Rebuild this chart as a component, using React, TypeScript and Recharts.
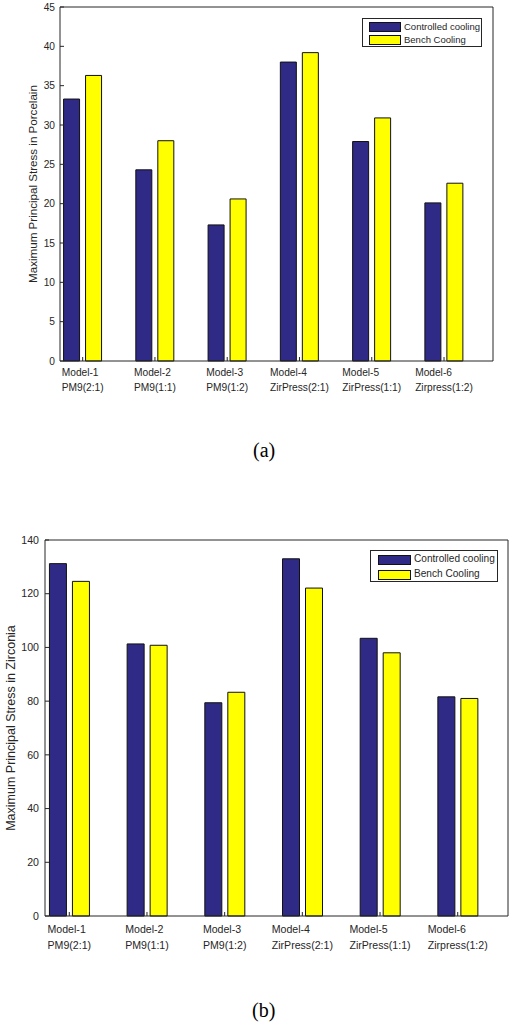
import { Bar, BarChart, Legend, XAxis, YAxis } from "recharts";

// values
const models = ["Model-1", "Model-2", "Model-3", "Model-4", "Model-5", "Model-6"];
const materials = ["PM9(2:1)", "PM9(1:1)", "PM9(1:2)", "ZirPress(2:1)", "ZirPress(1:1)", "Zirpress(1:2)"];

const porcelainControlled = [33.3, 24.3, 17.3, 38.0, 27.9, 20.1];
const porcelainBench = [36.3, 28.0, 20.6, 39.2, 30.9, 22.6];
const porcelainTicks = [0, 5, 10, 15, 20, 25, 30, 35, 40, 45];

const zirconiaControlled = [131.2, 101.3, 79.4, 133.0, 103.4, 81.6];
const zirconiaBench = [124.6, 100.8, 83.3, 122.1, 98.0, 81.0];
const zirconiaTicks = [0, 20, 40, 60, 80, 100, 120, 140];

const seriesNames = ["Controlled cooling", "Bench Cooling"];

const BLUE = "#2f2a85";
const YELLOW = "#ffff00";
const INK = "#262626";
const FONT = '"Liberation Sans", Arial, sans-serif';

let ctx: CanvasRenderingContext2D | null = null;
function textWidth(s: string, size: number) {
  if (!ctx) ctx = document.createElement("canvas").getContext("2d");
  if (!ctx) return s.length * size * 0.55;
  ctx.font = `${size}px ${FONT}`;
  return ctx.measureText(s).width;
}

interface LegendBox {
  left: number;
  top: number;
  width: number;
  height: number;
  swatchLeft: number;
  swatchW: number;
  swatchH: number;
  rows: number[]; // row centres inside the box
  textGap: number;
  fs: number;
}

interface PanelProps {
  top: number;
  height: number;
  controlled: number[];
  bench: number[];
  yMax: number;
  ticks: number[];
  yLabel: string;
  margin: { top: number; right: number };
  yAxisW: number;
  xAxisH: number;
  pad: { left: number; right: number };
  barSize: number;
  fs: number;
  labelFs: number;
  labelX: number;
  line1: number;
  line2: number;
  yTickMargin: number;
  legend: LegendBox;
}

function Panel(p: PanelProps) {
  const rows = models.map((m, i) => ({
    model: m,
    controlled: p.controlled[i],
    bench: p.bench[i],
  }));
  const plotH = p.height - p.margin.top - p.xAxisH;
  const cy = p.margin.top + plotH / 2;
  const lg = p.legend;

  const catTick = (t: any) => {
    const i = models.indexOf(t.payload.value);
    const a = models[i];
    const b = materials[i];
    const w = Math.max(textWidth(a, p.fs), textWidth(b, p.fs));
    const left = t.x - w / 2;
    return (
      <g>
        <text x={left} y={t.y + p.line1} fontSize={p.fs} fontFamily={FONT} fill={INK}>
          {a}
        </text>
        <text x={left} y={t.y + p.line2} fontSize={p.fs} fontFamily={FONT} fill={INK}>
          {b}
        </text>
      </g>
    );
  };

  const legendContent = (lp: any) => {
    // keep the plotting order, not alphabetical
    const items = [...(lp.payload || [])].sort(
      (u: any, v: any) => seriesNames.indexOf(u.value) - seriesNames.indexOf(v.value)
    );
    return (
      <div
        style={{
          position: "relative",
          width: lg.width,
          height: lg.height,
          boxSizing: "border-box",
          border: `1px solid ${INK}`,
          background: "#fff",
          fontFamily: FONT,
          fontSize: lg.fs,
          color: INK,
        }}
      >
        {items.map((e: any, k: number) => (
          <div
            key={e.value}
            style={{
              position: "absolute",
              left: lg.swatchLeft,
              top: lg.rows[k] - lg.swatchH / 2,
              height: lg.swatchH,
              display: "flex",
              alignItems: "center",
              whiteSpace: "nowrap",
            }}
          >
            <span
              style={{
                display: "inline-block",
                width: lg.swatchW,
                height: lg.swatchH,
                boxSizing: "border-box",
                border: "1px solid #111",
                background: e.color,
                marginRight: lg.textGap,
              }}
            />
            <span style={{ lineHeight: 1 }}>{e.value}</span>
          </div>
        ))}
      </div>
    );
  };

  return (
    <div style={{ position: "absolute", left: 0, top: p.top }}>
      <BarChart
        width={513}
        height={p.height}
        data={rows}
        margin={{ top: p.margin.top, right: p.margin.right, left: 0, bottom: 0 }}
        barGap={6}
        style={{ fontFamily: FONT }}
      >
        <XAxis
          dataKey="model"
          height={p.xAxisH}
          padding={p.pad}
          interval={0}
          tickSize={-4}
          tickMargin={4}
          stroke={INK}
          tick={catTick}
        />
        <XAxis
          xAxisId="top"
          dataKey="model"
          orientation="top"
          mirror
          padding={p.pad}
          interval={0}
          tickSize={4}
          stroke={INK}
          tick={false}
        />
        <YAxis
          width={p.yAxisW}
          domain={[0, p.yMax]}
          ticks={p.ticks}
          interval={0}
          tickSize={-4}
          tickMargin={p.yTickMargin}
          stroke={INK}
          tick={{ fill: INK, fontSize: p.fs, fontFamily: FONT }}
          label={{
            content: () => (
              <text
                x={p.labelX}
                y={cy}
                transform={`rotate(-90 ${p.labelX} ${cy})`}
                textAnchor="middle"
                fontSize={p.labelFs}
                fontFamily={FONT}
                fill={INK}
              >
                {p.yLabel}
              </text>
            ),
          }}
        />
        <YAxis
          yAxisId="right"
          orientation="right"
          mirror
          domain={[0, p.yMax]}
          ticks={p.ticks}
          interval={0}
          tickSize={4}
          stroke={INK}
          tick={false}
        />
        <Legend
          layout="vertical"
          align="center"
          verticalAlign="middle"
          wrapperStyle={{ left: lg.left, top: lg.top, width: lg.width, height: lg.height }}
          content={legendContent}
        />
        <Bar
          dataKey="controlled"
          name={seriesNames[0]}
          fill={BLUE}
          stroke="#111"
          strokeWidth={1}
          barSize={p.barSize}
          isAnimationActive={false}
        />
        <Bar
          dataKey="bench"
          name={seriesNames[1]}
          fill={YELLOW}
          stroke="#111"
          strokeWidth={1}
          barSize={p.barSize}
          isAnimationActive={false}
        />
      </BarChart>
    </div>
  );
}

const captionStyle = {
  position: "absolute" as const,
  fontFamily: '"Liberation Serif", "Times New Roman", serif',
  fontSize: 20,
  lineHeight: 1,
  color: "#000",
};

export default function App() {
  return (
    <div style={{ position: "absolute", left: 0, top: 0, width: 513, height: 1025, background: "#fff" }}>
      <Panel
        top={0}
        height={410}
        controlled={porcelainControlled}
        bench={porcelainBench}
        yMax={45}
        ticks={porcelainTicks}
        yLabel="Maximum Principal Stress in Porcelain"
        margin={{ top: 7, right: 20 }}
        yAxisW={60}
        xAxisH={49}
        pad={{ left: -13.45, right: 12.85 }}
        barSize={16}
        fs={10.2}
        labelFs={11.6}
        labelX={37}
        line1={15}
        line2={29.7}
        yTickMargin={9}
        legend={{
          left: 362,
          top: 18,
          width: 120,
          height: 29,
          swatchLeft: 6,
          swatchW: 32,
          swatchH: 10,
          rows: [7.5, 20.5],
          textGap: 3,
          fs: 9.5,
        }}
      />
      <div style={{ ...captionStyle, left: 253, top: 440 }}>(a)</div>
      <Panel
        top={500}
        height={470}
        controlled={zirconiaControlled}
        bench={zirconiaBench}
        yMax={140}
        ticks={zirconiaTicks}
        yLabel="Maximum Principal Stress in Zirconia"
        margin={{ top: 40, right: 5 }}
        yAxisW={45}
        xAxisH={54}
        pad={{ left: -14.55, right: 11.45 }}
        barSize={17}
        fs={10.6}
        labelFs={12.5}
        labelX={15}
        line1={17.3}
        line2={33}
        yTickMargin={10}
        legend={{
          left: 370,
          top: 50,
          width: 128,
          height: 32,
          swatchLeft: 7,
          swatchW: 33,
          swatchH: 10,
          rows: [8.5, 23.5],
          textGap: 3,
          fs: 10.1,
        }}
      />
      <div style={{ ...captionStyle, left: 252, top: 1000 }}>(b)</div>
    </div>
  );
}
